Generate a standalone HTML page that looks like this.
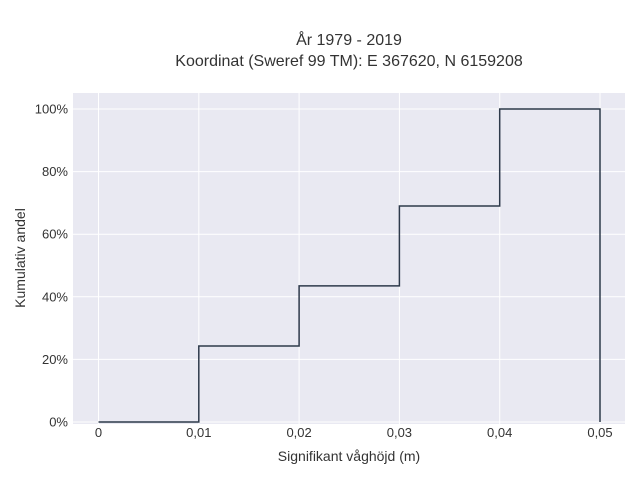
<!DOCTYPE html>
<html><head><meta charset="utf-8"><style>
body{margin:0;background:#fff;font-family:"Liberation Sans",sans-serif;}
svg text{font-family:"Liberation Sans",sans-serif;fill:#333;}
</style></head><body>
<svg width="640" height="480" xmlns="http://www.w3.org/2000/svg">
<text x="349" y="45" text-anchor="middle" font-size="16">År 1979 - 2019</text>
<text x="349" y="66" text-anchor="middle" font-size="16">Koordinat (Sweref 99 TM): E 367620, N 6159208</text>
<rect x="73" y="93" width="552" height="331" fill="#e9e9f2"/>
<g id="grid"></g><g id="ticks"></g>
<path id="line" fill="none" stroke="#2e3a4b" stroke-width="1.5"/>
<text x="349" y="461" text-anchor="middle" font-size="14">Signifikant våghöjd (m)</text>
<text x="25" y="258" text-anchor="middle" font-size="14" transform="rotate(-90 25 258)">Kumulativ andel</text>
</svg>
<script>
const xValues=[0,0.01,0.02,0.03,0.04,0.05];
const yValues=[0,24.3,43.5,69,100,0];
const xTicks=[0,0.01,0.02,0.03,0.04,0.05];
const xTickLabels=["0","0,01","0,02","0,03","0,04","0,05"];
const yTicks=[0,20,40,60,80,100];
const yTickLabels=["0%","20%","40%","60%","80%","100%"];
const NS="http://www.w3.org/2000/svg";
const sx=v=>98.5+v/0.05*501.5;
const sy=v=>422-v/100*313;
const grid=document.getElementById('grid'),ticks=document.getElementById('ticks');
function mk(tag,attrs,parent){const e=document.createElementNS(NS,tag);for(const k in attrs)e.setAttribute(k,attrs[k]);parent.appendChild(e);return e;}
xTicks.forEach((t,i)=>{
 const l=mk('line',{x1:sx(t),x2:sx(t),y1:93,y2:424,stroke:'#fff','stroke-width':1},grid);
 
 
 const tx=mk('text',{x:sx(t),y:437,'text-anchor':'middle','font-size':13},ticks);
 tx.textContent=xTickLabels[i];
 
 
});
yTicks.forEach((t,i)=>{
 const l=mk('line',{x1:73,x2:625,y1:sy(t),y2:sy(t),stroke:'#fff','stroke-width':1},grid);
 
 
 const tx=mk('text',{x:68,y:sy(t)+4.5,'text-anchor':'end','font-size':13},ticks);
 tx.textContent=yTickLabels[i];
 
 
});
let d='M'+sx(xValues[0])+','+sy(yValues[0]);
for(let i=1;i<xValues.length;i++){d+=' H'+sx(xValues[i])+' V'+sy(yValues[i]);}
document.getElementById('line').setAttribute('d',d);
</script>
</body></html>
